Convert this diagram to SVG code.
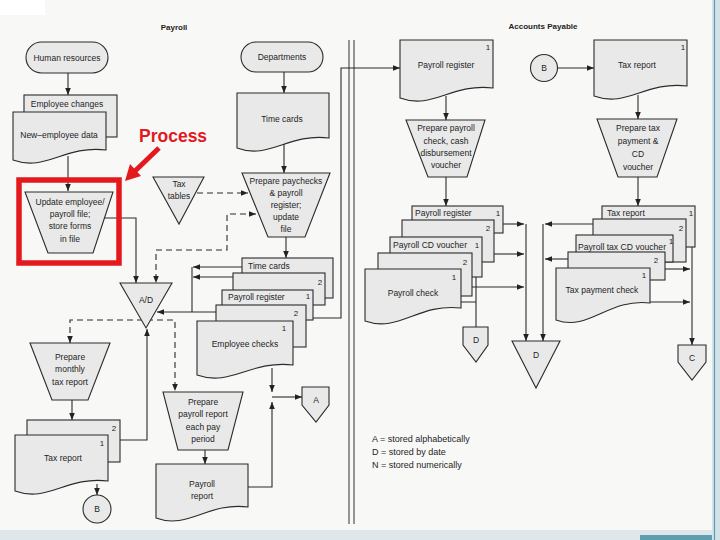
<svg xmlns="http://www.w3.org/2000/svg" width="720" height="540" viewBox="0 0 720 540">
<defs>
<style>
.n{fill:#e9e9e9;stroke:#2b2b2b;stroke-width:1.1}
.t{font-family:"Liberation Sans",Arial,sans-serif;font-size:8.5px;fill:#1e1e1e;text-anchor:middle}
.l{text-anchor:start}
.num{font-size:8px}
.h{font-weight:bold;font-size:8px}
.c{fill:none;stroke:#2b2b2b;stroke-width:1.1}
.d{stroke-dasharray:6 4}
.a{marker-end:url(#ah)}
.s{marker-start:url(#ah)}
.div{stroke:#333;stroke-width:1;fill:none}
</style>
<marker id="ah" viewBox="0 0 10 10" refX="10" refY="5" markerWidth="7" markerHeight="7" markerUnits="userSpaceOnUse" orient="auto-start-reverse">
<path d="M0,1 L10,5 L0,9 Z" fill="#222"/>
</marker>
</defs>

<rect x="0" y="0" width="720" height="540" fill="#f8f8f6"/>
<rect x="0" y="0" width="45" height="15" fill="#ffffff"/>
<rect x="0" y="530" width="720" height="10" fill="#dfe7ea"/>
<rect x="640" y="535" width="80" height="5" fill="#5d9fb0"/>
<rect x="712" y="0" width="8" height="540" fill="#d3e4e9"/>
<line x1="714.5" y1="0" x2="714.5" y2="540" stroke="#5d9fb0" stroke-width="1.2"/>

<g id="titles">
<text class="t h" x="174" y="30">Payroll</text>
<text class="t h" x="543" y="29">Accounts Payable</text>
</g>

<g id="divider">
<path class="div" d="M349,40 V524 M354,40 V524"/>
</g>

<g id="connectors">
<path class="c a" d="M68,73 V95"/>
<path class="c a" d="M68,156 V191"/>
<path class="c a" d="M105,218 H136 V283"/>
<path class="c a" d="M284,72 V93"/>
<path class="c a" d="M284,144 V173"/>
<path class="c a" d="M286,237 V258"/>
<path class="c a" d="M242,267 H193"/>
<path class="c a" d="M233,277 H193"/>
<path class="c" d="M192,267 V312"/>
<path class="c a" d="M216,312 H157"/>
<path class="c a" d="M120,440 H147 V329"/>
<path class="c a" d="M97,484 V495"/>
<path class="c a" d="M72,400 V420"/>
<path class="c a" d="M205,450 V464"/>
<path class="c a" d="M272,368 V392"/>
<path class="c a" d="M248,487 H272 V402"/>
<path class="c a" d="M272,397 H302"/>
<path class="c a" d="M313,318 H341 V68 H400"/>
<path class="c a" d="M558,68 H594"/>
<path class="c a" d="M446,96 V120"/>
<path class="c a" d="M446,177 V206"/>
<path class="c a" d="M638,95 V119"/>
<path class="c a" d="M638,177 V206"/>
<path class="c a" d="M503,224 H524"/>
<path class="c a" d="M494,254 H524"/>
<path class="c a" d="M472,287 H524"/>
<path class="c a" d="M526,224 V341"/>
<path class="c" d="M476,277 V327 M461,302 H476"/>
<path class="c a" d="M593,224 H545"/>
<path class="c a" d="M568,259 H545"/>
<path class="c a" d="M543,224 V341"/>
<path class="c a" d="M665,269 H690"/>
<path class="c a" d="M650,302 H690"/>
<path class="c a" d="M692,247 V345"/>
<path class="c d a" d="M197,193 H248"/>
<path class="c d a s" d="M256,214 H227 V250 H156 V283"/>
<path class="c d a s" d="M70,343 V320 H175 V391"/>
</g>

<g id="human-resources">
<rect class="n" x="26" y="42" width="82" height="31" rx="15.5"/>
<text class="t" x="67" y="61">Human resources</text>
</g>
<g id="employee-changes">
<rect class="n" x="24" y="95" width="93" height="42"/>
<text class="t" x="67" y="107">Employee changes</text>
</g>
<g id="new-employee-data">
<path class="n" d="M13,112 H106 V150 C64,145 46,172 13,160 Z"/>
<text class="t" x="59" y="138">New–employee data</text>
</g>
<g id="update-employee">
<polygon class="n" points="25,192 113,192 93,253 48,253"/>
<text class="t" x="70" y="205">Update employee/</text>
<text class="t" x="70" y="217">payroll file;</text>
<text class="t" x="70" y="229">store forms</text>
<text class="t" x="70" y="242">in file</text>
</g>
<g id="tax-tables">
<polygon class="n" points="153,177 204,177 179,224"/>
<text class="t" x="179" y="187">Tax</text>
<text class="t" x="179" y="199">tables</text>
</g>
<g id="departments">
<rect class="n" x="241" y="42" width="82" height="30" rx="15"/>
<text class="t" x="282" y="60">Departments</text>
</g>
<g id="time-cards-in">
<path class="n" d="M237,93 H329 V138 C288,133 269,160 237,148 Z"/>
<text class="t" x="282" y="122">Time cards</text>
</g>
<g id="prepare-paychecks">
<polygon class="n" points="242,173 330,173 305,237 268,237"/>
<text class="t" x="286" y="184">Prepare paychecks</text>
<text class="t" x="286" y="196">&amp; payroll</text>
<text class="t" x="286" y="208">register;</text>
<text class="t" x="286" y="220">update</text>
<text class="t" x="286" y="232">file</text>
</g>
<g id="time-cards-out">
<rect class="n" x="242" y="258" width="91" height="40"/>
<text class="t l" x="248" y="269">Time cards</text>
</g>
<g id="copy2-a">
<rect class="n" x="233" y="273" width="92" height="32"/>
<text class="t num" x="320" y="285">2</text>
</g>
<g id="payroll-register-1">
<rect class="n" x="222" y="290" width="91" height="30"/>
<text class="t l" x="228" y="300">Payroll register</text>
<text class="t num" x="308" y="299">1</text>
</g>
<g id="copy2-b">
<rect class="n" x="216" y="305" width="90" height="42"/>
<text class="t num" x="296" y="316">2</text>
</g>
<g id="employee-checks">
<path class="n" d="M197,321 H293 V365 C250,360 231,387 197,375 Z"/>
<text class="t num" x="284" y="331">1</text>
<text class="t" x="245" y="347">Employee checks</text>
</g>
<g id="ad-file">
<polygon class="n" points="120,283 172,283 146,328"/>
<text class="t" x="146" y="303">A/D</text>
</g>
<g id="prepare-monthly-tax">
<polygon class="n" points="30,343 110,343 88,400 52,400"/>
<text class="t" x="70" y="360">Prepare</text>
<text class="t" x="70" y="372">monthly</text>
<text class="t" x="70" y="385">tax report</text>
</g>
<g id="tax-report-2">
<rect class="n" x="27" y="420" width="93" height="42"/>
<text class="t num" x="114" y="431">2</text>
</g>
<g id="tax-report-1">
<path class="n" d="M15,435 H108 V481 C66,476 48,503 15,491 Z"/>
<text class="t num" x="102" y="446">1</text>
<text class="t" x="63" y="461">Tax report</text>
</g>
<g id="connector-b1">
<circle class="n" cx="97" cy="509" r="14"/>
<text class="t" x="97" y="512">B</text>
</g>
<g id="prepare-payroll-report">
<polygon class="n" points="163,392 243,392 228,450 178,450"/>
<text class="t" x="203" y="405">Prepare</text>
<text class="t" x="203" y="417">payroll report</text>
<text class="t" x="203" y="430">each pay</text>
<text class="t" x="203" y="442">period</text>
</g>
<g id="payroll-report">
<path class="n" d="M156,464 H248 V507 C207,502 188,530 156,518 Z"/>
<text class="t" x="202" y="487">Payroll</text>
<text class="t" x="202" y="499">report</text>
</g>
<g id="connector-a">
<path class="n" d="M302,387 H329 V405 L316,422 L302,405 Z"/>
<text class="t" x="316" y="403">A</text>
</g>

<g id="ap-payroll-register">
<path class="n" d="M400,40 H493 V88 C451,83 433,110 400,98 Z"/>
<text class="t num" x="488" y="50">1</text>
<text class="t" x="446" y="68">Payroll register</text>
</g>
<g id="prepare-payroll-check">
<polygon class="n" points="406,120 485,120 467,177 428,177"/>
<text class="t" x="446" y="131">Prepare payroll</text>
<text class="t" x="446" y="144">check, cash</text>
<text class="t" x="446" y="156">disbursement</text>
<text class="t" x="446" y="168">voucher</text>
</g>
<g id="ap-pr-1">
<rect class="n" x="412" y="206" width="91" height="27"/>
<text class="t l" x="415" y="216">Payroll register</text>
<text class="t num" x="498" y="216">1</text>
</g>
<g id="ap-pr-2">
<rect class="n" x="402" y="220" width="92" height="42"/>
<text class="t num" x="488" y="231">2</text>
</g>
<g id="payroll-cd-voucher-1">
<rect class="n" x="390" y="237" width="92" height="40"/>
<text class="t l" x="393" y="248" textLength="74" lengthAdjust="spacingAndGlyphs">Payroll CD voucher</text>
<text class="t num" x="477" y="248">1</text>
</g>
<g id="payroll-cd-voucher-2">
<rect class="n" x="378" y="253" width="94" height="43"/>
<text class="t num" x="465" y="265">2</text>
</g>
<g id="payroll-check">
<path class="n" d="M365,269 H461 V308 C418,303 399,333 365,321 Z"/>
<text class="t num" x="454" y="280">1</text>
<text class="t" x="413" y="296">Payroll check</text>
</g>
<g id="connector-d-small">
<path class="n" d="M463,327 H488 V345 L476,362 L463,345 Z"/>
<text class="t" x="476" y="343">D</text>
</g>
<g id="d-file">
<polygon class="n" points="512,341 560,341 536,388"/>
<text class="t" x="536" y="358">D</text>
</g>

<g id="connector-b2">
<circle class="n" cx="544" cy="68" r="13.5"/>
<text class="t" x="544" y="71">B</text>
</g>
<g id="ap-tax-report">
<path class="n" d="M594,40 H687 V86 C645,81 627,108 594,96 Z"/>
<text class="t num" x="683" y="50">1</text>
<text class="t" x="637" y="68">Tax report</text>
</g>
<g id="prepare-tax-payment">
<polygon class="n" points="597,119 677,119 657,177 618,177"/>
<text class="t" x="638" y="131">Prepare tax</text>
<text class="t" x="638" y="144">payment &amp;</text>
<text class="t" x="638" y="157">CD</text>
<text class="t" x="638" y="170">voucher</text>
</g>
<g id="ap-tr-1">
<rect class="n" x="602" y="206" width="93" height="41"/>
<text class="t l" x="607" y="216">Tax report</text>
<text class="t num" x="691" y="216">1</text>
</g>
<g id="ap-tr-2">
<rect class="n" x="593" y="219" width="93" height="43"/>
<text class="t num" x="681" y="231">2</text>
</g>
<g id="payroll-tax-cd-voucher-1">
<rect class="n" x="576" y="235" width="97" height="27"/>
<text class="t l" x="578" y="250" textLength="88" lengthAdjust="spacingAndGlyphs">Payroll tax CD voucher</text>
<text class="t num" x="671" y="244" style="font-size:7.5px">1</text>
</g>
<g id="payroll-tax-cd-voucher-2">
<rect class="n" x="568" y="252" width="97" height="28"/>
<text class="t num" x="656" y="263">2</text>
</g>
<g id="tax-payment-check">
<path class="n" d="M556,268 H650 V303 C608,298 589,332 556,320 Z"/>
<text class="t num" x="644" y="278">1</text>
<text class="t" x="602" y="293">Tax payment check</text>
</g>
<g id="connector-c">
<path class="n" d="M678,345 H706 V362 L692,380 L678,362 Z"/>
<text class="t" x="692" y="361">C</text>
</g>

<g id="legend">
<text class="t l" x="372" y="442" style="font-size:9px">A = stored alphabetically</text>
<text class="t l" x="372" y="455" style="font-size:9px">D = stored by date</text>
<text class="t l" x="372" y="468" style="font-size:9px">N = stored numerically</text>
</g>

<g id="annotation">
<rect x="19" y="180" width="100" height="83" fill="none" stroke="#e3191e" stroke-width="5.5"/>
<line x1="159" y1="148" x2="134" y2="172" stroke="#e3191e" stroke-width="5"/>
<polygon points="125,181 141,176 130,164" fill="#e3191e"/>
<text x="139" y="142" style="font-family:'Liberation Sans',Arial,sans-serif;font-size:17.5px;font-weight:bold;fill:#e3191e">Process</text>
</g>
</svg>
